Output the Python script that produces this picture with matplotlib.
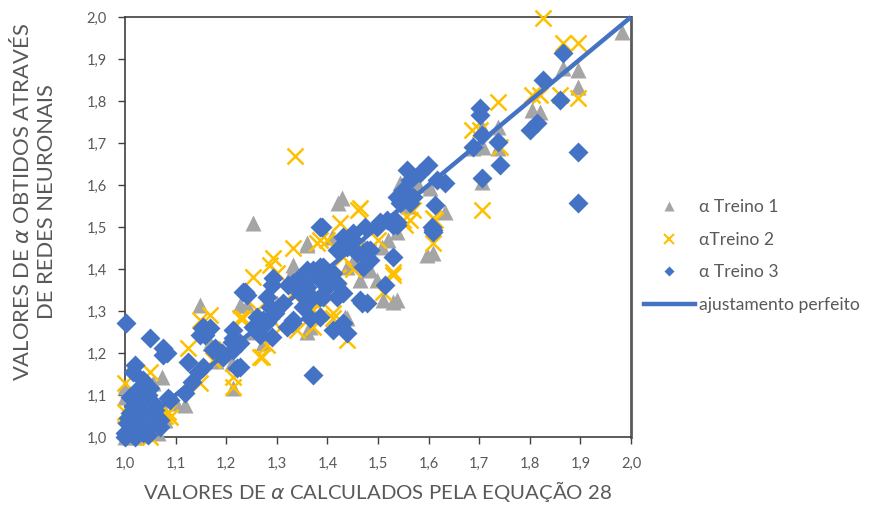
import matplotlib
matplotlib.use("Agg")
import matplotlib.pyplot as plt
from matplotlib.lines import Line2D

# ---- data: alpha from equation 28 (x) vs alpha from neural networks (y) ----
treino1_x = [1.0, 1.02, 1.055, 1.073, 1.03, 1.06, 1.04, 1.08, 1.01, 1.05, 1.1, 1.0, 1.02, 1.065,
             1.119, 1.08, 1.0, 1.148, 1.213, 1.211, 1.168, 1.253, 1.227, 1.241, 1.273, 1.332,
             1.36, 1.366, 1.439, 1.464, 1.51, 1.53, 1.508, 1.366, 1.439, 1.332, 1.36, 1.429,
             1.421, 1.36, 1.409, 1.435, 1.498, 1.597, 1.609, 1.537, 1.484, 1.537, 1.29, 1.30,
             1.18, 1.25, 1.40, 1.45, 1.47, 1.56, 1.52, 1.982, 1.866, 1.895, 1.895, 1.804, 1.82,
             1.737, 1.705, 1.688, 1.707, 1.737, 1.705, 1.603, 1.632, 1.543, 1.58]
treino1_y = [1.095, 1.11, 1.129, 1.143, 1.06, 1.05, 1.02, 1.06, 1.03, 1.08, 1.08, 1.0, 1.0, 1.01,
             1.076, 1.04, 1.12, 1.314, 1.117, 1.176, 1.224, 1.51, 1.314, 1.314, 1.224, 1.41,
             1.457, 1.262, 1.283, 1.374, 1.326, 1.321, 1.452, 1.357, 1.405, 1.398, 1.25, 1.569,
             1.557, 1.462, 1.476, 1.286, 1.374, 1.433, 1.438, 1.488, 1.398, 1.326, 1.30, 1.32,
             1.18, 1.25, 1.38, 1.42, 1.46, 1.55, 1.47, 1.964, 1.879, 1.874, 1.833, 1.779, 1.774,
             1.738, 1.738, 1.688, 1.69, 1.688, 1.607, 1.593, 1.536, 1.605, 1.60]

treino2_x = [1.0, 1.049, 1.01, 1.03, 1.02, 1.0, 1.04, 1.06, 1.08, 1.089, 1.07, 1.05, 1.015, 1.03,
             1.0, 1.045, 1.085, 1.148, 1.124, 1.292, 1.253, 1.332, 1.168, 1.148, 1.271, 1.213,
             1.213, 1.227, 1.379, 1.399, 1.411, 1.439, 1.53, 1.34, 1.379, 1.431, 1.336, 1.464,
             1.425, 1.46, 1.53, 1.385, 1.411, 1.372, 1.563, 1.287, 1.3, 1.233, 1.261, 1.271,
             1.281, 1.267, 1.306, 1.372, 1.174, 1.609, 1.51, 1.553, 1.609, 1.569, 1.613, 1.55,
             1.20, 1.45, 1.48, 1.50, 1.36, 1.42, 1.33, 1.826, 1.866, 1.895, 1.895, 1.86, 1.804,
             1.82, 1.737, 1.686, 1.702, 1.705, 1.741]
treino2_y = [1.129, 1.155, 1.08, 1.1, 1.05, 1.02, 1.01, 1.03, 1.05, 1.048, 1.07, 1.0, 1.0, 1.005,
             1.06, 1.04, 1.06, 1.129, 1.212, 1.426, 1.381, 1.45, 1.29, 1.279, 1.19, 1.119,
             1.143, 1.283, 1.462, 1.469, 1.295, 1.231, 1.386, 1.255, 1.314, 1.429, 1.669, 1.545,
             1.51, 1.54, 1.393, 1.469, 1.283, 1.302, 1.517, 1.41, 1.39, 1.283, 1.302, 1.262,
             1.219, 1.19, 1.26, 1.262, 1.183, 1.462, 1.345, 1.505, 1.521, 1.54, 1.517, 1.517,
             1.21, 1.40, 1.44, 1.47, 1.36, 1.38, 1.34, 1.998, 1.938, 1.938, 1.807, 1.814, 1.814,
             1.814, 1.798, 1.731, 1.731, 1.54, 1.69]

treino3_x = [1.0, 1.016, 1.004, 1.024, 1.049, 1.069, 1.036, 1.01, 1.036, 1.063, 1.03, 1.055, 1.01,
             1.024, 1.049, 1.036, 1.085, 1.02, 1.016, 1.049, 1.002, 1.075, 1.075, 1.083, 1.124,
             1.144, 1.132, 1.119, 1.089, 1.174, 1.0, 1.02, 1.045, 1.06, 1.015, 1.045, 1.07, 1.005,
             1.152, 1.168, 1.148, 1.178, 1.192, 1.221, 1.213, 1.213, 1.227, 1.233, 1.241, 1.261,
             1.273, 1.292, 1.29, 1.281, 1.312, 1.332, 1.32, 1.332, 1.352, 1.36, 1.366, 1.372,
             1.385, 1.391, 1.399, 1.411, 1.411, 1.419, 1.439, 1.435, 1.451, 1.464, 1.478, 1.47,
             1.484, 1.514, 1.53, 1.372, 1.498, 1.53, 1.537, 1.609,
             1.237, 1.287, 1.296, 1.322, 1.34, 1.36, 1.346, 1.33, 1.385, 1.261, 1.253, 1.28,
             1.267, 1.211, 1.213, 1.158, 1.154, 1.227, 1.194, 1.154, 1.29, 1.391,
             1.389, 1.431, 1.451, 1.474, 1.518, 1.543, 1.563, 1.439, 1.419, 1.458, 1.478, 1.484,
             1.47, 1.385, 1.36, 1.405, 1.36, 1.385, 1.419, 1.431, 1.352, 1.468, 1.385, 1.431,
             1.866, 1.826, 1.86, 1.814, 1.80, 1.895, 1.895, 1.702, 1.702, 1.705, 1.688, 1.737,
             1.741, 1.705, 1.557, 1.599, 1.583, 1.617, 1.632, 1.563, 1.537, 1.55, 1.569, 1.613,
             1.504, 1.537, 1.607, 1.55, 1.609]
treino3_y = [1.01, 1.017, 1.033, 1.029, 1.024, 1.024, 1.01, 1.057, 1.057, 1.048, 1.081, 1.081, 1.095,
             1.112, 1.117, 1.136, 1.093, 1.171, 1.155, 1.236, 1.271, 1.212, 1.195, 1.20, 1.178,
             1.155, 1.131, 1.105, 1.088, 1.207, 1.0, 1.0, 1.005, 1.065, 1.075, 1.10, 1.04, 1.045,
             1.26, 1.26, 1.243, 1.212, 1.2, 1.164, 1.255, 1.236, 1.224, 1.345, 1.338, 1.255,
             1.279, 1.379, 1.238, 1.333, 1.319, 1.279, 1.262, 1.367, 1.381, 1.343, 1.283, 1.398,
             1.5, 1.405, 1.357, 1.255, 1.39, 1.333, 1.248, 1.457, 1.469, 1.326, 1.319, 1.438,
             1.445, 1.362, 1.429, 1.148, 1.5, 1.505, 1.505, 1.488,
             1.345, 1.31, 1.295, 1.362, 1.374, 1.319, 1.343, 1.271, 1.374, 1.286, 1.262, 1.274,
             1.243, 1.226, 1.207, 1.243, 1.262, 1.167, 1.19, 1.167, 1.362, 1.333,
             1.5, 1.476, 1.486, 1.5, 1.517, 1.557, 1.557, 1.452, 1.445, 1.438, 1.445, 1.421,
             1.405, 1.405, 1.398, 1.381, 1.357, 1.333, 1.367, 1.343, 1.31, 1.319, 1.286, 1.271,
             1.914, 1.85, 1.802, 1.748, 1.731, 1.679, 1.557, 1.783, 1.767, 1.719, 1.69, 1.702,
             1.648, 1.617, 1.636, 1.648, 1.629, 1.612, 1.605, 1.612, 1.571, 1.564, 1.571, 1.552,
             1.512, 1.512, 1.5, 1.588, 1.493]

ajuste_x = [1.0, 2.0]
ajuste_y = [1.0, 2.0]

x_ticks = [1.0, 1.1, 1.2, 1.3, 1.4, 1.5, 1.6, 1.7, 1.8, 1.9, 2.0]
y_ticks = [1.0, 1.1, 1.2, 1.3, 1.4, 1.5, 1.6, 1.7, 1.8, 1.9, 2.0]

labels = ["\u03b1 Treino 1", "\u03b1Treino 2", "\u03b1 Treino 3", "ajustamento perfeito"]

# ---- styling ----
GRAY = "#A5A5A5"
GOLD = "#FFC000"
BLUE = "#4472C4"
TEXT = "#595959"

plt.rcParams["font.family"] = ["Lato", "DejaVu Sans"]

fig = plt.figure(figsize=(8.72, 5.07), dpi=100)
ax = fig.add_axes([125 / 872, 1 - 437 / 507, (631 - 125) / 872, (437 - 17) / 507])

ax.plot(treino1_x, treino1_y, linestyle="none", marker="^", ms=12, color=GRAY,
        mec="none", clip_on=False, zorder=3)
ax.plot(treino2_x, treino2_y, linestyle="none", marker="x", ms=11, mew=1.8, color=GOLD,
        clip_on=False, zorder=4)
ax.plot(treino3_x, treino3_y, linestyle="none", marker="D", ms=10, color=BLUE,
        mec="none", clip_on=False, zorder=5)
ax.plot(ajuste_x, ajuste_y, color=BLUE, lw=3.2, solid_capstyle="butt", zorder=6, clip_on=False)

ax.set_xlim(1.0, 2.0)
ax.set_ylim(1.0, 2.0)
ax.set_xticks(x_ticks)
ax.set_yticks(y_ticks)
ax.set_xticklabels([f"{t:.1f}".replace(".", ",") for t in x_ticks])
ax.set_yticklabels([f"{t:.1f}".replace(".", ",") for t in y_ticks])
ax.tick_params(axis="both", direction="out", length=5, width=1, color="#404040",
               labelsize=10.5, labelcolor=TEXT)
ax.tick_params(axis="x", pad=9)
ax.tick_params(axis="y", pad=8)

for side in ["left", "bottom", "top"]:
    ax.spines[side].set_color("#404040")
    ax.spines[side].set_linewidth(1.2)
ax.spines["right"].set_color("#595959")
ax.spines["right"].set_linewidth(2)

ax.set_xlabel("VALORES DE $\\alpha$ CALCULADOS PELA EQUAÇÃO 28", fontsize=14.7,
              color=TEXT, labelpad=6)
ax.set_ylabel("VALORES DE $\\alpha$ OBTIDOS ATRAVÉS\nDE REDES NEURONAIS", fontsize=15.8,
              color=TEXT, labelpad=18, linespacing=1.25)
ax.yaxis.set_label_coords(-0.135, 0.56)

handles = [
    Line2D([], [], linestyle="none", marker="^", ms=7, color=GRAY, mec="none"),
    Line2D([], [], linestyle="none", marker="x", ms=7, mew=1.5, color=GOLD),
    Line2D([], [], linestyle="none", marker="D", ms=5.5, color=BLUE, mec="none"),
    Line2D([], [], color=BLUE, lw=3.2),
]
fig.legend(handles, labels, loc="center left", bbox_to_anchor=(644 / 872, 1 - 256 / 507),
           frameon=False, fontsize=12.6, labelcolor=TEXT, handlelength=2.9,
           handletextpad=0.25, labelspacing=0.95, borderpad=0, borderaxespad=0)

fig.savefig("out.png", dpi=100)
